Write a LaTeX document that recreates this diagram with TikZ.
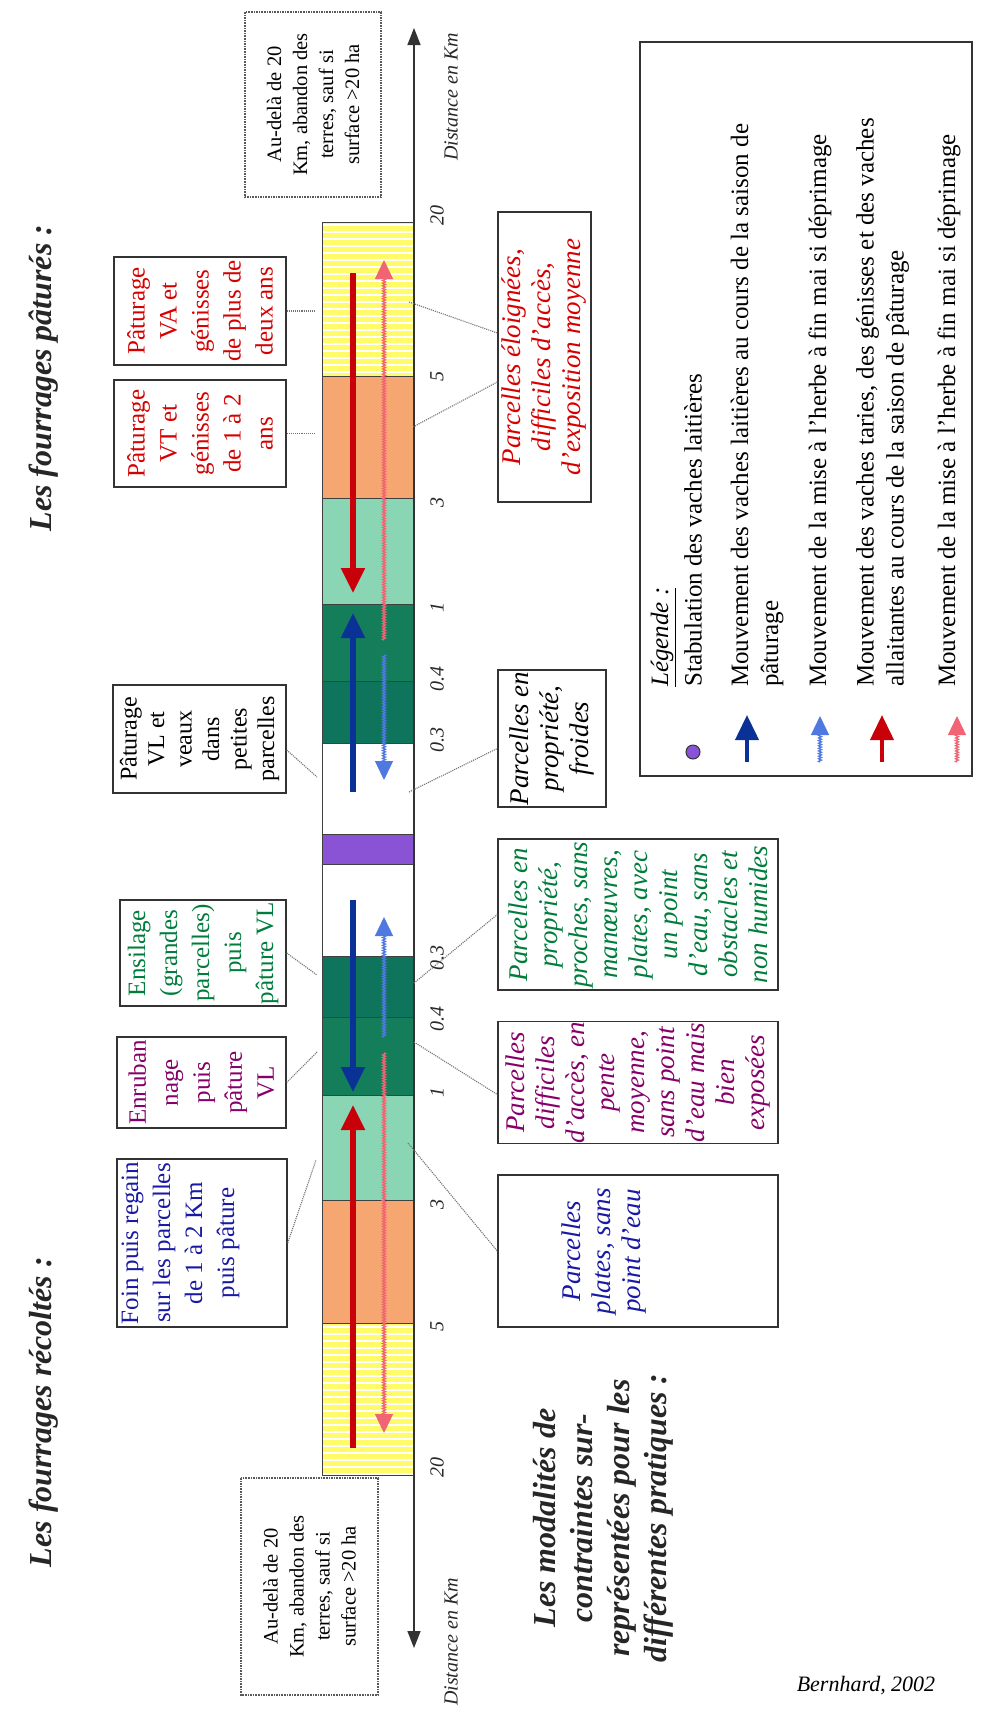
\documentclass[tikz,border=0pt]{standalone}
\usepackage{fontspec}
\setmainfont{Liberation Serif}
\usetikzlibrary{arrows.meta,decorations.pathmorphing}
\definecolor{fpyellow}{RGB}{255,251,105}
\definecolor{fporange}{RGB}{246,166,112}
\definecolor{fpmint}{RGB}{138,214,180}
\definecolor{fpdark}{RGB}{20,126,90}
\definecolor{fpdarker}{RGB}{14,116,92}
\definecolor{fppurple}{RGB}{138,82,212}
\definecolor{fpred}{RGB}{215,0,0}
\definecolor{fpdarkred}{RGB}{200,0,10}
\definecolor{fppink}{RGB}{240,100,115}
\definecolor{fpnavy}{RGB}{10,50,150}
\definecolor{fpsky}{RGB}{80,120,225}
\definecolor{fpblue}{RGB}{25,25,165}
\definecolor{fpgreen}{RGB}{0,125,60}
\definecolor{fpplum}{RGB}{135,0,105}
\definecolor{fpink}{RGB}{40,40,40}
\newcommand{\fpboxfont}{\fontsize{25}{32}\selectfont}
\newcommand{\fptightfont}{\fontsize{24}{27.5}\selectfont}
\newcommand{\fpnotefont}{\fontsize{27}{30}\selectfont\itshape}
\newcommand{\fpfarfont}{\fontsize{20.5}{26}\selectfont}
\newcommand{\fplegfont}{\fontsize{25}{30}\selectfont}
\newcommand{\fpkmfont}{\fontsize{20}{24}\selectfont\itshape}
\newcommand{\fptitlefont}{\fontsize{32}{37}\selectfont\bfseries\itshape}
\newcommand{\fpcreditfont}{\fontsize{22}{26}\selectfont\itshape}
\tikzset{
	band/.style={draw=black!75, line width=1pt},
	cowbox/.style={draw=black!80, line width=1.4pt, rotate=90, inner sep=0pt, align=center, font=\fpboxfont},
	notebox/.style={cowbox, font=\fpnotefont},
	farbox/.style={draw=black!65, densely dotted, line width=1.6pt, rotate=90, inner sep=0pt, align=center, font=\fpfarfont},
	leader/.style={draw=black!55, densely dotted, line width=1.1pt},
	axisline/.style={draw=black!80, line width=1.6pt, {Triangle[width=13pt,length=17pt]}-{Triangle[width=13pt,length=17pt]}},
	mainmove/.style={line width=5.5pt, -{Triangle[width=23pt,length=25pt]}},
	grassmove/.style={line width=1.3pt, decorate, decoration={zigzag, amplitude=1.4pt, segment length=2.6pt, post length=18pt}, -{Triangle[width=18pt,length=19pt]}},
	kmlabel/.style={rotate=90, font=\fpkmfont, text=fpink},
	titletext/.style={rotate=90, font=\fptitlefont, text=black!85, align=center},
	legtext/.style={rotate=90, anchor=west, align=left, inner sep=0pt, font=\fplegfont},
	legframe/.style={draw=black!80, line width=1.8pt}
}
\begin{document}
\begin{tikzpicture}[x=1pt,y=-1pt]
		
		\fill[white] (0,0) rectangle (987,1722);
		\useasboundingbox (0,0) rectangle (987,1722);
		
		\foreach \ya/\yb/\col in {222/376/fpyellow, 376/498/fporange, 498/604/fpmint, 604/681/fpdark, 681/743/fpdarker, 743/834/white, 834/864/fppurple, 864/956/white, 956/1017/fpdarker, 1017/1095/fpdark, 1095/1200/fpmint, 1200/1323/fporange, 1323/1475/fpyellow}
		\fill[\col] (322,\ya) rectangle (414,\yb);
		\foreach \s in {225,232,...,372}
		\draw[white, line width=2.6pt] (323,\s) -- (413,\s);
		\foreach \s in {1327,1334,...,1474}
		\draw[white, line width=2.6pt] (323,\s) -- (413,\s);
		\foreach \ya/\yb in {222/376, 376/498, 498/604, 604/681, 681/743, 743/834, 834/864, 864/956, 956/1017, 1017/1095, 1095/1200, 1200/1323, 1323/1475}
		\draw[band] (322,\ya) rectangle (414,\yb);
		
		\coordinate (axT) at (414,28);
		\coordinate (axB) at (414,1648);
		\draw[axisline] (axB) -- (axT);
		
		\draw[mainmove, fpdarkred] (353,273) -- (353,593);
		\draw[grassmove, fppink] (384,640) -- (384,260);
		\draw[mainmove, fpnavy] (353,792) -- (353,613);
		\draw[grassmove, fpsky] (384,655) -- (384,780);
		\draw[mainmove, fpnavy] (353,900) -- (353,1092);
		\draw[grassmove, fpsky] (384,1037) -- (384,917);
		\draw[mainmove, fpdarkred] (353,1448) -- (353,1105);
		\draw[grassmove, fppink] (384,1053) -- (384,1433);
		
		\foreach \y/\t in {215/20, 376/5, 502/3, 607/1, 679/0.4, 740/0.3, 958/0.3, 1019/0.4, 1092/1, 1204/3, 1326/5, 1467/20}
		\node[kmlabel] (km\y) at (437,\y) {\t};
		\node[kmlabel] (distT) at (451,97) {Distance en Km};
		\node[kmlabel] (distB) at (451,1642) {Distance en Km};
		
		\node[cowbox, text=fpred, minimum width=108pt, minimum height=172pt] (va) at (200,311) {Pâturage\\VA et\\génisses\\de plus de\\deux ans};
		\node[cowbox, text=fpred, minimum width=107pt, minimum height=172pt] (vt) at (200,433.5) {Pâturage\\VT et\\génisses\\de 1 à 2\\ans};
		\node[cowbox, font=\fptightfont, minimum width=108pt, minimum height=173pt] (vl) at (199.5,739) {Pâturage\\VL et\\veaux\\dans\\petites\\parcelles};
		\node[cowbox, text=fpgreen, minimum width=106pt, minimum height=166pt] (ens) at (203,953) {Ensilage\\(grandes\\parcelles)\\puis\\pâture VL};
		\node[cowbox, text=fpplum, minimum width=91pt, minimum height=169pt] (enr) at (201.5,1082.5) {Enruban\\nage\\puis\\pâture\\VL};
		\node[cowbox, minimum width=168pt, minimum height=170pt] (foin) at (202,1243) {};
		\node[rotate=90, anchor=north, font=\fpboxfont, text=fpblue, align=center, inner sep=0pt] (fointxt) at ([xshift=5pt]foin.north) {Foin puis regain\\sur les parcelles\\de 1 à 2 Km\\puis pâture};
		
		\node[farbox, minimum width=185pt, minimum height=136pt] (farT) at (313,104.5) {Au-delà de 20\\Km, abandon des\\terres, sauf si\\surface >20 ha};
		\node[farbox, minimum width=217pt, minimum height=137pt] (farB) at (309.5,1586.5) {Au-delà de 20\\Km, abandon des\\terres, sauf si\\surface >20 ha};
		
		\node[notebox, text=fpred, minimum width=290pt, minimum height=93pt] (elo) at (544.5,357) {Parcelles éloignées,\\difficiles d’accès,\\d’exposition moyenne};
		\node[notebox, minimum width=137pt, minimum height=108pt] (froid) at (552,738.5) {Parcelles en\\propriété,\\froides};
		\node[notebox, text=fpgreen, minimum width=151pt, minimum height=280pt] (prop) at (638,914.5) {Parcelles en\\propriété,\\proches, sans\\manœuvres,\\plates, avec\\un point\\d’eau, sans\\obstacles et\\non humides};
		\node[notebox, text=fpplum, minimum width=121pt, minimum height=280pt] (pente) at (638,1082.5) {Parcelles\\difficiles\\d’accès, en\\pente\\moyenne,\\sans point\\d’eau mais\\bien\\exposées};
		\node[notebox, minimum width=152pt, minimum height=280pt] (plates) at (638,1251) {};
		\node[rotate=90, font=\fpnotefont, text=fpblue, align=center, inner sep=0pt] (platestxt) at (604,1251) {Parcelles\\plates, sans\\point d’eau};
		
		\coordinate (barL) at (316,0);
		\coordinate (pVL) at (317,777);
		\coordinate (pEns) at (317,975);
		\coordinate (pEnr) at (317,1052);
		\coordinate (pFoin) at (316,1160);
		\coordinate (pElo1) at (409,302);
		\coordinate (pElo2) at (413,427);
		\coordinate (pFroid) at (409,792);
		\coordinate (pProp) at (414,983);
		\coordinate (pPente) at (414,1042);
		\coordinate (pPlates) at (408,1143);
		\draw[leader] (va.south) -- (va.south -| barL);
		\draw[leader] (vt.south) -- (vt.south -| barL);
		\draw[leader] ([yshift=-11pt]vl.south) -- (pVL);
		\draw[leader] (ens.south) -- (pEns);
		\draw[leader] (enr.south) -- (pEnr);
		\draw[leader] (foin.south) -- (pFoin);
		\draw[leader] (pElo1) -- ([yshift=24pt]elo.north);
		\draw[leader] (pElo2) -- ([yshift=-25pt]elo.north);
		\draw[leader] (pFroid) -- ([yshift=-10pt]froid.north);
		\draw[leader] (pProp) -- (prop.north);
		\draw[leader] (pPente) -- ([yshift=-12pt]pente.north);
		\draw[leader] (pPlates) -- (plates.north);
		
		\draw[legframe] (640,42) rectangle (972,776);
		\node[legtext] (lgtitle) at (663,687) {\underline{\itshape Légende :}};
		\node[legtext] (lgstab) at (693,687) {Stabulation des vaches laitières};
		\node[legtext] (lgvl) at (757,687) {Mouvement des vaches laitières au cours de la saison de\\pâturage};
		\node[legtext] (lgmise) at (820,687) {Mouvement de la mise à l’herbe à fin mai si déprimage};
		\node[legtext] (lgva) at (882.5,687) {Mouvement des vaches taries, des génisses et des vaches\\allaitantes au cours de la saison de pâturage};
		\node[legtext] (lgmise2) at (949,687) {Mouvement de la mise à l’herbe à fin mai si déprimage};
		\node[draw=black!80, fill=fppurple, circle, minimum size=14pt, inner sep=0pt, line width=1pt] (lgdot) at (693,752) {};
		\draw[mainmove, fpnavy, line width=4pt] (747,762) -- (747,715);
		\draw[grassmove, fpsky] (820,762) -- (820,716);
		\draw[mainmove, fpdarkred, line width=4pt] (882,762) -- (882,715);
		\draw[grassmove, fppink] (957,762) -- (957,716);
		
		\node[titletext] (ttpat) at (44,378) {Les fourrages pâturés :};
		\node[titletext] (ttrec) at (44,1412) {Les fourrages récoltés :};
		\node[titletext] (ttmod) at (603,1518) {Les modalités de\\contraintes sur-\\représentées pour les\\différentes pratiques :};
		\node[font=\fpcreditfont] (credit) at (866,1686) {Bernhard, 2002};
		
	\end{tikzpicture}
\end{document}
